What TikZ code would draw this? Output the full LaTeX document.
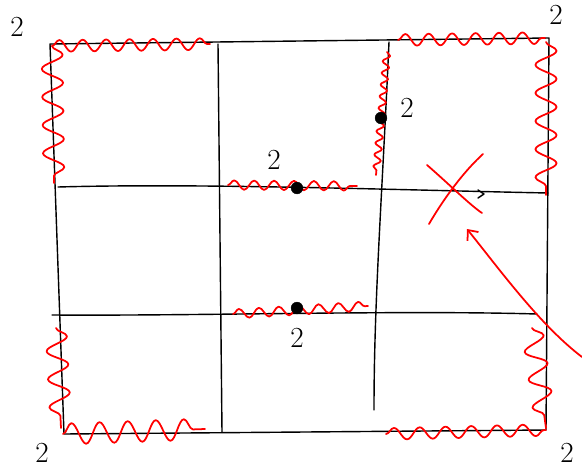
\documentclass[tikz,border=0pt]{standalone}
\usepackage{amsmath}
\usetikzlibrary{arrows.meta, calc, decorations.pathmorphing}
\begin{document}
\begin{tikzpicture}[x=0.03cm, y=-0.03cm, line cap=round, line join=round,
  grid/.style={black, line width=1.2pt},
  wig/.style={red, line width=1.5pt, decorate, decoration={snake, amplitude=4pt, segment length=17pt}},
  zig/.style={red, line width=1.5pt, decorate, decoration={snake, amplitude=9pt, segment length=24pt}},
  vert/.style={circle, fill=black, draw=black, inner sep=0pt, minimum size=10pt},
  two/.style={font=\Huge}]
\useasboundingbox (0,0) rectangle (582,470);
% outer square
\coordinate (tl) at (50,44);
\coordinate (tr) at (549,38);
\coordinate (br) at (546,430);
\coordinate (bl) at (64,434);
\draw[grid] (tl) -- (tr) -- (br) -- (bl) -- cycle;
% grid lines
\draw[grid] (218,44) -- (222,432);
\draw[grid] (389,42) .. controls (382,200) and (374,300) .. (374,410);
\draw[grid] (58,187) .. controls (200,183) and (400,190) .. (548,193);
\draw[grid] (52,315) .. controls (200,316) and (400,310) .. (537,314);
\draw[grid] (478,190) -- (484,194) -- (478,198);
% red on the borders
\draw[wig, decoration={amplitude=5pt, segment length=20pt}] (52,46) -- (210,44);
\draw[zig] (52,46) -- (54,183);
\draw[wig, decoration={amplitude=5pt, segment length=20pt}] (398,40) -- (545,38);
\draw[zig] (546,42) -- (546,195);
\draw[zig] (56,328) -- (61,428);
\draw[zig] (63,434) -- (205,429);
\draw[wig, decoration={amplitude=5pt, segment length=22pt}] (386,434) -- (546,430);
\draw[zig] (532,328) -- (546,428);
% red in the middle
\draw[wig] (228,185) -- (357,186);
\draw[wig] (233,314) -- (368,306);
\draw[wig, decoration={amplitude=3pt, segment length=10pt}] (387,52) -- (376,175);
% vertices
\node[vert] (va) at (297,188) {};
\node[vert] (vb) at (297,308) {};
\node[vert] (vc) at (381,118) {};
% labels
\node[two] (la) at (17,27) {2};
\node[two] (lb) at (556,15) {2};
\node[two] (lc) at (407,108) {2};
\node[two] (ld) at (274,160) {2};
\node[two] (le) at (297,338) {2};
\node[two] (lf) at (42,453) {2};
\node[two] (lg) at (567,453) {2};
% cross and arrow
\draw[red, line width=1.5pt] (427,165) .. controls (450,185) and (470,205) .. (482,213);
\draw[red, line width=1.5pt] (483,154) .. controls (460,175) and (440,205) .. (429,224);
\coordinate (tail) at (582,357);
\coordinate (tip) at (467,229);
\draw[red, line width=1.5pt, -{Straight Barb[length=7pt, width=12pt]}] (tail) .. controls (540,325) and (500,270) .. (tip);
\end{tikzpicture}
\end{document}
